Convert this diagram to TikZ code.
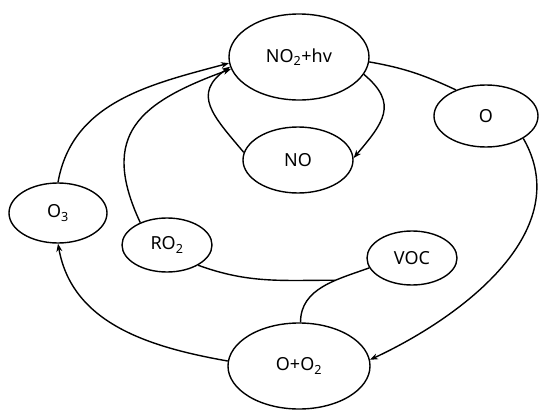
\documentclass[tikz,border=0pt]{standalone}
\usepackage{fontspec}
\setmainfont{Noto Sans}
\usepackage{tikz}
\usetikzlibrary{arrows.meta,shapes.geometric}
\newcommand{\sub}[1]{\textsubscript{#1}}

\begin{document}
\begin{tikzpicture}[x=1pt,y=-1pt,>={Stealth[length=8pt,width=6pt]},font=\fontsize{18}{20}\selectfont,
el/.style={draw,ellipse,line width=1.4pt,inner sep=0pt},
a/.style={->,line width=1.4pt},l/.style={line width=1.4pt}]
\useasboundingbox (0,0) rectangle (542,410);
\node[el,minimum width=140pt,minimum height=86pt] (no2) at (299,57) {NO\sub{2}+hv};
\node[el,minimum width=110pt,minimum height=66pt] (no) at (298,160) {NO};
\node[el,minimum width=104pt,minimum height=62pt] (o) at (486,116) {O};
\node[el,minimum width=98pt,minimum height=60pt] (o3) at (58,213) {O\sub{3}};
\node[el,minimum width=90pt,minimum height=54pt] (ro2) at (167,245) {RO\sub{2}};
\node[el,minimum width=90pt,minimum height=54pt] (voc) at (412,258) {VOC};
\node[el,minimum width=142pt,minimum height=86pt] (oo2) at (299,366) {O+O\sub{2}};
\draw[a] (no2.-15) to[out=-40,in=50,looseness=1.4] (no.2);
\draw[a] (no.172) to[out=130,in=-145,looseness=1.4] (no2.188);
\draw[l] (no2.-4) to[out=-10,in=155] (o.139);
\draw[a] (o.-31) to[out=-60,in=25,looseness=1] (oo2.5);
\draw[a] (oo2.176) to[out=170,in=-80,looseness=1] (o3.-90);
\draw[a] (o3.90) to[out=80,in=195,looseness=1] (no2.185);
\draw[a] (ro2.140) to[out=115,in=200,looseness=1.4] (no2.190);
\draw[l] (voc.193) to[out=200,in=90] coordinate[pos=0.35] (join) (oo2.88);
\draw[l] (ro2.-33) to[out=-20,in=180] (join);
\end{tikzpicture}
\end{document}
